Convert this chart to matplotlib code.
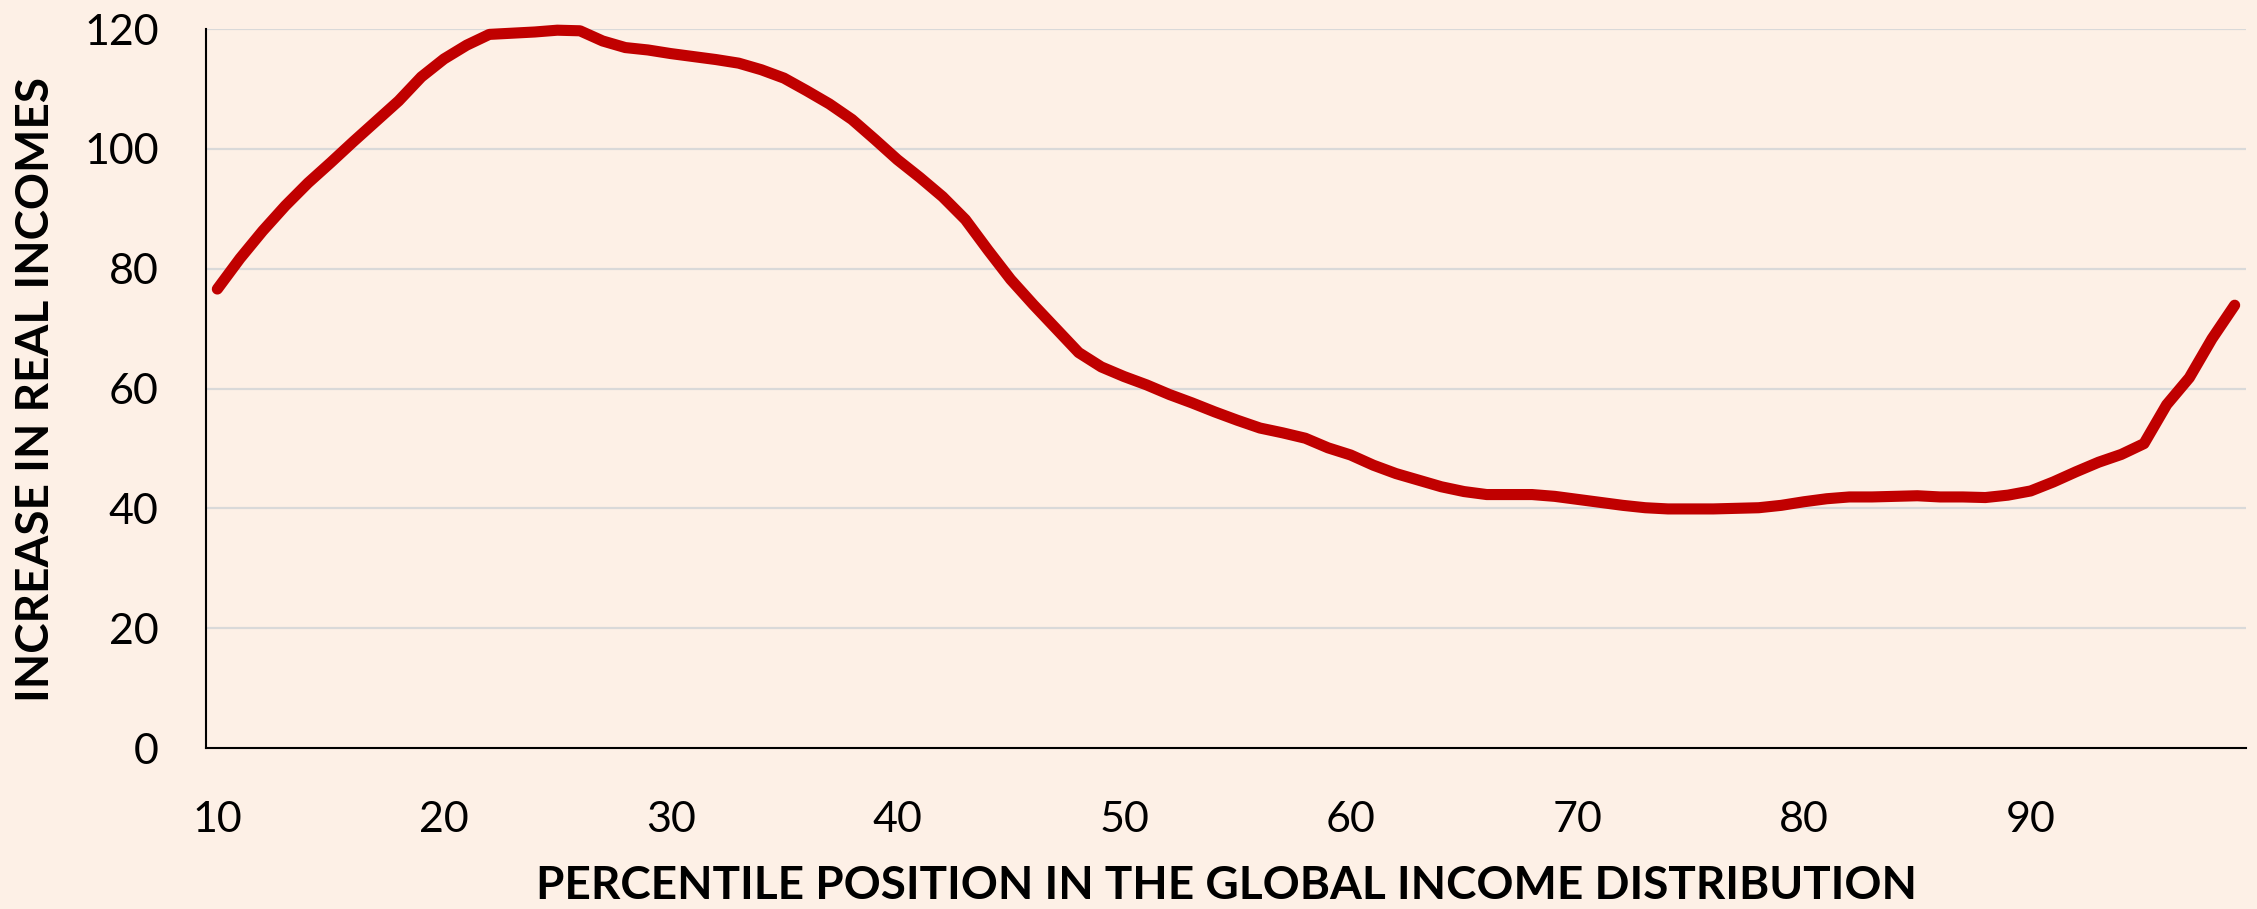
import numpy as np
import matplotlib.pyplot as plt

# Percentile of the global income distribution and cumulative real income growth (%)
percentiles = np.arange(10, 100)
income_growth = [
    76.6, 81.7, 86.3, 90.5, 94.3, 97.7, 101.2, 104.6, 108.0, 112.0,   # 10-19
    115.0, 117.3, 119.1, 119.3, 119.5, 119.8, 119.7, 118.0, 116.9, 116.5,  # 20-29
    115.9, 115.4, 114.9, 114.3, 113.2, 111.8, 109.7, 107.5, 104.9, 101.6,  # 30-39
    98.2, 95.2, 92.0, 88.2, 83.1, 78.2, 74.0, 70.0, 66.0, 63.6,   # 40-49
    62.0, 60.6, 59.0, 57.6, 56.1, 54.7, 53.4, 52.6, 51.7, 50.1,   # 50-59
    48.9, 47.2, 45.8, 44.7, 43.6, 42.8, 42.3, 42.3, 42.3, 42.0,   # 60-69
    41.5, 41.0, 40.5, 40.1, 39.9, 39.9, 39.9, 40.0, 40.1, 40.5,   # 70-79
    41.1, 41.6, 41.9, 41.9, 42.0, 42.1, 41.9, 41.9, 41.8, 42.2,   # 80-89
    42.9, 44.4, 46.1, 47.7, 49.0, 50.8, 57.3, 61.8, 68.3, 73.9,   # 90-99
]
x_ticks = [10, 20, 30, 40, 50, 60, 70, 80, 90]
y_ticks = [0, 20, 40, 60, 80, 100, 120]

bg = '#FDF0E6'
plt.rcParams['font.family'] = ['Lato', 'DejaVu Sans']

fig = plt.figure(figsize=(22.57, 9.09), dpi=100, facecolor=bg)
ax = fig.add_axes([206 / 2257, 1 - 748 / 909, 2040 / 2257, 719 / 909])
ax.set_facecolor(bg)

ax.plot(percentiles, income_growth, color='#C00000', lw=8,
        solid_capstyle='round', solid_joinstyle='round', clip_on=False, zorder=3)

ax.set_xlim(9.5, 99.5)
ax.set_ylim(0, 120)
ax.set_xticks(x_ticks)
ax.set_yticks(y_ticks)
ax.tick_params(length=0, labelsize=31)
ax.tick_params(axis='x', pad=38)
ax.tick_params(axis='y', pad=34)

for y in y_ticks[1:]:
    ax.axhline(y, color='#D9D9D9', lw=1.6, zorder=1)

for side in ['top', 'right']:
    ax.spines[side].set_visible(False)
for side in ['left', 'bottom']:
    ax.spines[side].set_color('black')
    ax.spines[side].set_linewidth(1.5)

fig.text(1226 / 2257, 1 - 886 / 909, 'PERCENTILE POSITION IN THE GLOBAL INCOME DISTRIBUTION',
         ha='center', va='center', fontsize=33, fontweight='bold')
fig.text(36 / 2257, 1 - 390 / 909, 'INCREASE IN REAL INCOMES',
         ha='center', va='center', rotation=90, fontsize=33, fontweight='bold')

fig.savefig('out.png', dpi=100, facecolor=bg)
